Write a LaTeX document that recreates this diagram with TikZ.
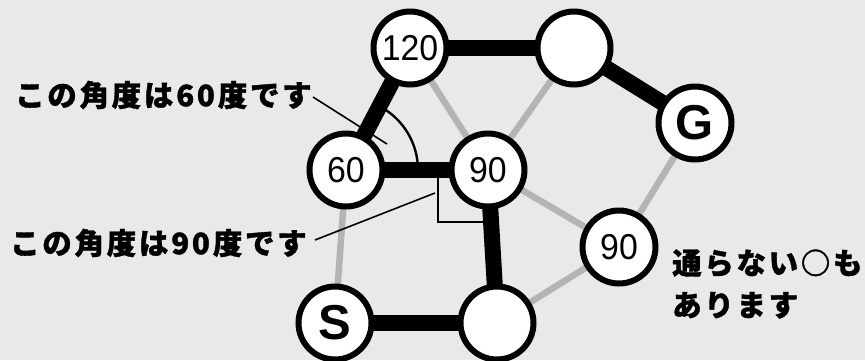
\documentclass[tikz,border=0pt]{standalone}
\usepackage{fontspec}
\setmainfont{Liberation Sans}
\newfontfamily\numfont[FakeStretch=0.94]{Liberation Sans}
\newfontfamily\jp[LetterSpace=9, BoldFeatures={FakeBold=1.2}]{Noto Sans CJK JP}
\definecolor{bgcol}{RGB}{233,233,233}
\definecolor{greyedge}{RGB}{180,180,180}
\pgfdeclarelayer{bglayer}
\pgfdeclarelayer{edgelayer}
\pgfsetlayers{bglayer,edgelayer,main}
\tikzset{
  vtx/.style={circle, draw=black, line width=6pt, fill=white, minimum size=73pt, inner sep=0pt,
    font=\numfont\fontsize{36}{36}\selectfont},
  bigvtx/.style={vtx, font=\bfseries\fontsize{49}{49}\selectfont},
  pathedge/.style={line width=16pt, black},
  otheredge/.style={line width=6.5pt, greyedge},
  markline/.style={line width=2.4pt, black},
  leaderline/.style={line width=1.6pt, black},
  jtext/.style={inner sep=0pt, font=\jp\bfseries\fontsize{29.5}{42}\selectfont}
}
\newcommand{\dg}[1]{\hspace{3pt}#1\hspace{3pt}}
\begin{document}
\begin{tikzpicture}[x=1pt, y=-1pt]
\useasboundingbox (0,0) rectangle (865,360);
\begin{pgfonlayer}{bglayer}
\fill[bgcol] (0,0) rectangle (865,360);
\end{pgfonlayer}
% vertices
\node[vtx] (n120) at (410,48) {120};
\node[vtx] (ntr) at (574,48) {};
\node[bigvtx] (ng) at (695,123) {G};
\node[vtx] (n60) at (346,170) {60};
\node[vtx] (n90c) at (488,170) {90};
\node[vtx] (n90r) at (619,247) {90};
\node[bigvtx] (ns) at (335,323) {S};
\node[vtx] (nb) at (497,323) {};
% edges
\begin{pgfonlayer}{edgelayer}
\draw[otheredge] (n120.center) -- (n90c.center);
\draw[otheredge] (ntr.center) -- (n90c.center);
\draw[otheredge] (n60.center) -- (ns.center);
\draw[otheredge] (n90c.center) -- (n90r.center);
\draw[otheredge] (nb.center) -- (n90r.center);
\draw[otheredge] (n90r.center) -- (ng.center);
\draw[pathedge] (ns.center) -- (nb.center);
\draw[pathedge] (nb.center) -- (n90c.center);
\draw[pathedge] (n90c.center) -- (n60.center);
\draw[pathedge] (n60.center) -- (n120.center);
\draw[pathedge] (n120.center) -- (ntr.center);
\draw[pathedge] (ntr.center) -- (ng.center);
\end{pgfonlayer}
% angle marks
\draw[markline] ([shift={(72,0)}]n60.center) arc[start angle=0, end angle=-62, radius=72];
\coordinate (ra1) at (438,172);
\coordinate (ra2) at (438,222);
\coordinate (ra3) at (489,222);
\draw[markline] (ra1) -- (ra2) -- (ra3);
% labels
\node[jtext, anchor=west] (t60) at (15,95) {この角度は\dg{60}度です};
\node[jtext, anchor=west] (t90) at (10,243) {この角度は\dg{90}度です};
\node[jtext, anchor=west, align=left] (tnote) at (672,284) {通らない○も\\あります};
\coordinate (l1end) at (387,144);
\coordinate (l2end) at (435,193);
\draw[leaderline] (313,97) -- (l1end);
\draw[leaderline] (315,240) -- (l2end);
\end{tikzpicture}
\end{document}
